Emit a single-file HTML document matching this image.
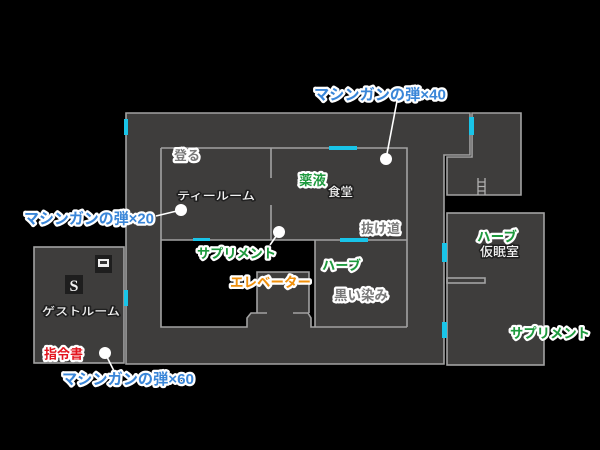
<!DOCTYPE html>
<html><head><meta charset="utf-8"><style>
html,body{margin:0;padding:0;background:#000;width:600px;height:450px;overflow:hidden}
svg{display:block}
.lb{font-family:"Liberation Sans","Noto Sans CJK JP",sans-serif;font-weight:700;paint-order:stroke;stroke:#fff;stroke-width:4.5;stroke-linejoin:round}
.bl{fill:#3a86d8}
.gr{fill:#1e9a3e}
.or{fill:#f0900c}
.rd{fill:#e3141e}
.gy{fill:#7a7a7a}
.wt{font-family:"Liberation Sans","Noto Sans CJK JP",sans-serif;font-weight:500;fill:#f2f2f2;paint-order:stroke;stroke:rgba(20,20,20,0.7);stroke-width:3;stroke-linejoin:round}
</style></head><body>
<svg width="600" height="450" viewBox="0 0 600 450" xmlns="http://www.w3.org/2000/svg">
<rect width="600" height="450" fill="#000"/>
<g fill="#3e3d3c" stroke="#a2a2a2" stroke-width="1.6">
<polygon points="126,113 470,113 470,155 444,155 444,364 126,364"/>
<polygon points="472,113 521,113 521,195 447,195 447,157 472,157"/>
<rect x="447" y="213" width="97" height="152"/>
<rect x="34" y="247" width="90" height="116"/>
</g>
<polygon points="161,240 315,240 315,327 311,327 311,318 309,313 309,272 257,272 257,313 251,313 247,318 247,327 161,327" fill="#000"/>
<g fill="none" stroke="#a2a2a2" stroke-width="1.6">
<path d="M161,148 H407 V327"/>
<path d="M161,148 V327 H247 V318 L251,313 H267"/>
<path d="M293,313 H308 L311,318 V327 H407"/>
<path d="M257,313 V272 H309 V313"/>
<path d="M161,240 H407"/>
<path d="M271,148 V178 M271,205 V240"/>
<path d="M315,240 V327"/>
<rect x="447" y="278" width="38" height="5"/>
</g>
<g stroke="#b0b0b0" stroke-width="1.3" fill="none">
<path d="M478,178 V195 M485,178 V195 M478,182 H485 M478,186.5 H485 M478,191 H485"/>
</g>
<g fill="#19c4e8">
<rect x="124" y="119" width="4" height="16"/>
<rect x="124" y="290" width="4" height="16"/>
<rect x="469" y="117" width="5" height="18"/>
<rect x="329" y="146" width="28" height="4"/>
<rect x="340" y="238" width="28" height="4"/>
<rect x="193" y="238" width="17" height="3"/>
<rect x="442" y="243" width="5" height="19"/>
<rect x="442" y="322" width="5" height="16"/>
</g>
<rect x="95" y="255" width="17" height="18" fill="#1e1e1e"/>
<rect x="98" y="259" width="11" height="8" fill="#eee"/>
<rect x="100" y="261" width="7" height="3" fill="#333"/>
<rect x="65" y="275" width="18" height="19" fill="#1e1e1e"/>
<text x="74" y="291" text-anchor="middle" font-family="Liberation Serif, serif" font-weight="700" font-size="16" fill="#f2f2f2">S</text>
<g stroke="#fff" stroke-width="1.6">
<line x1="386" y1="159" x2="397" y2="101"/>
<line x1="181" y1="210" x2="156" y2="216"/>
<line x1="279" y1="232" x2="270" y2="245"/>
<line x1="105" y1="353" x2="114" y2="371"/>
</g>
<g fill="#fff">
<circle cx="386" cy="159" r="6"/>
<circle cx="181" cy="210" r="6"/>
<circle cx="279" cy="232" r="6"/>
<circle cx="105" cy="353" r="6"/>
</g>
<text class="lb bl" x="314" y="99.5" font-size="15" textLength="132" lengthAdjust="spacingAndGlyphs">マシンガンの弾×40</text>
<text class="lb bl" x="24" y="223.5" font-size="15" textLength="130" lengthAdjust="spacingAndGlyphs">マシンガンの弾×20</text>
<text class="lb bl" x="62" y="384" font-size="15" textLength="132" lengthAdjust="spacingAndGlyphs">マシンガンの弾×60</text>
<text class="lb gr" x="197" y="258" font-size="13" textLength="79" lengthAdjust="spacingAndGlyphs">サプリメント</text>
<text class="lb or" x="230" y="287" font-size="13.5" textLength="81" lengthAdjust="spacingAndGlyphs">エレベーター</text>
<text class="lb gr" x="322" y="270" font-size="13" textLength="39" lengthAdjust="spacingAndGlyphs">ハーブ</text>
<text class="lb gy" x="334" y="300" font-size="13.5" textLength="54" lengthAdjust="spacingAndGlyphs">黒い染み</text>
<text class="lb gy" x="361" y="233" font-size="13" textLength="39" lengthAdjust="spacingAndGlyphs">抜け道</text>
<text class="lb gy" x="174" y="160" font-size="13" textLength="26" lengthAdjust="spacingAndGlyphs">登る</text>
<text class="lb gr" x="299" y="185" font-size="13.5" textLength="27" lengthAdjust="spacingAndGlyphs">薬液</text>
<text class="lb gr" x="477" y="241.5" font-size="13.5" textLength="40" lengthAdjust="spacingAndGlyphs">ハーブ</text>
<text class="lb gr" x="510" y="338" font-size="13.5" textLength="80" lengthAdjust="spacingAndGlyphs">サプリメント</text>
<text class="lb rd" x="44" y="358.5" font-size="13" textLength="39" lengthAdjust="spacingAndGlyphs">指令書</text>
<text class="wt" x="328" y="196" font-size="12" textLength="25" lengthAdjust="spacingAndGlyphs">食堂</text>
<text class="wt" x="177" y="199.5" font-size="11" textLength="78" lengthAdjust="spacingAndGlyphs">ティールーム</text>
<text class="wt" x="480" y="256" font-size="12.5" textLength="39" lengthAdjust="spacingAndGlyphs">仮眠室</text>
<text class="wt" x="42" y="315" font-size="11" textLength="78" lengthAdjust="spacingAndGlyphs">ゲストルーム</text>
</svg>
</body></html>
